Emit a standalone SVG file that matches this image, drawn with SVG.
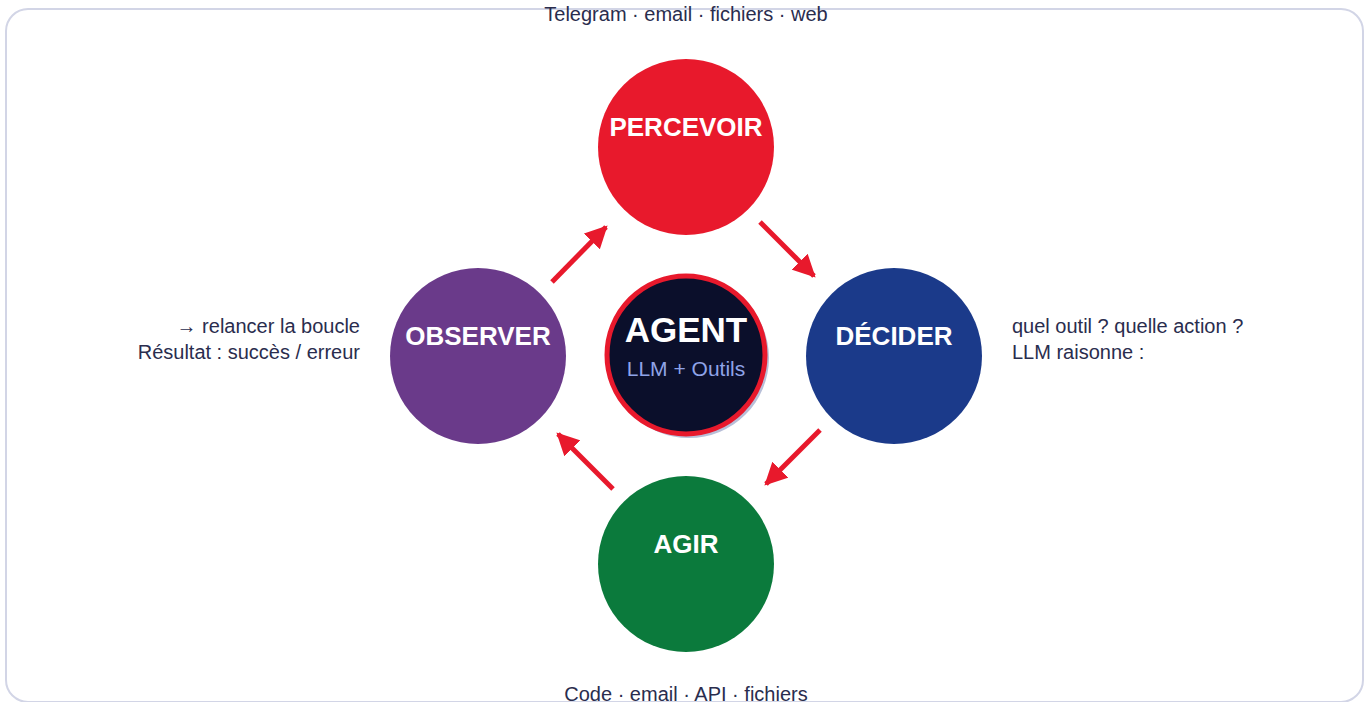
<svg xmlns="http://www.w3.org/2000/svg" width="1365" height="702" viewBox="0 0 1365 702">
<defs>
<style>
.lbl{font-family:"Liberation Sans",Arial,sans-serif;font-weight:bold;font-size:26px;fill:#fff;text-anchor:middle}
.note{font-family:"Liberation Sans",Arial,sans-serif;font-size:20px;fill:#2a2d4e}
.conn{stroke:#e8192c;stroke-width:5;fill:none;marker-end:url(#ah)}
</style>
<marker id="ah" viewBox="0 0 10 10" refX="9" refY="5" markerWidth="4.5" markerHeight="4.5" orient="auto" markerUnits="strokeWidth">
<path d="M0,0 L10,5 L0,10 Z" fill="#e8192c"/>
</marker>
</defs>
<rect x="0" y="0" width="1365" height="702" fill="#fff"/>
<rect x="6" y="9" width="1357" height="693" rx="22" fill="#fff" stroke="#d2d5e6" stroke-width="2"/>
<g id="connectors">
<line class="conn" x1="552" y1="282" x2="606" y2="227"/>
<line class="conn" x1="760" y1="222" x2="814" y2="276"/>
<line class="conn" x1="820" y1="430" x2="766" y2="484"/>
<line class="conn" x1="613" y1="489" x2="558" y2="434"/>
</g>
<g id="percevoir">
<circle cx="686" cy="147" r="88" fill="#e8192c"/>
<text class="lbl" x="686" y="136">PERCEVOIR</text>
</g>
<g id="decider">
<circle cx="894" cy="356" r="88" fill="#1b3a8a"/>
<text class="lbl" x="894" y="345">DÉCIDER</text>
</g>
<g id="agir">
<circle cx="686" cy="564" r="88" fill="#0b7a3c"/>
<text class="lbl" x="686" y="553">AGIR</text>
</g>
<g id="observer">
<circle cx="478" cy="356" r="88" fill="#6a3a8a"/>
<text class="lbl" x="478" y="345">OBSERVER</text>
</g>
<g id="agent">
<circle cx="689" cy="358" r="80" fill="#b8bfd8"/>
<circle cx="686" cy="355" r="79" fill="#0b0f2b" stroke="#e8192c" stroke-width="5"/>
<text x="686" y="342" font-family="Liberation Sans,Arial,sans-serif" font-weight="bold" font-size="35" fill="#fff" text-anchor="middle">AGENT</text>
<text x="686" y="376" font-family="Liberation Sans,Arial,sans-serif" font-size="21" fill="#8fa3e8" text-anchor="middle">LLM + Outils</text>
</g>
<g id="notes">
<text class="note" x="686" y="21" text-anchor="middle">Telegram · email · fichiers · web</text>
<text class="note" x="686" y="701" text-anchor="middle">Code · email · API · fichiers</text>
<text class="note" x="1012" y="333">quel outil ? quelle action ?</text>
<text class="note" x="1012" y="359">LLM raisonne :</text>
<text class="note" x="360" y="333" text-anchor="end">→ relancer la boucle</text>
<text class="note" x="360" y="359" text-anchor="end">Résultat : succès / erreur</text>
</g>
</svg>
